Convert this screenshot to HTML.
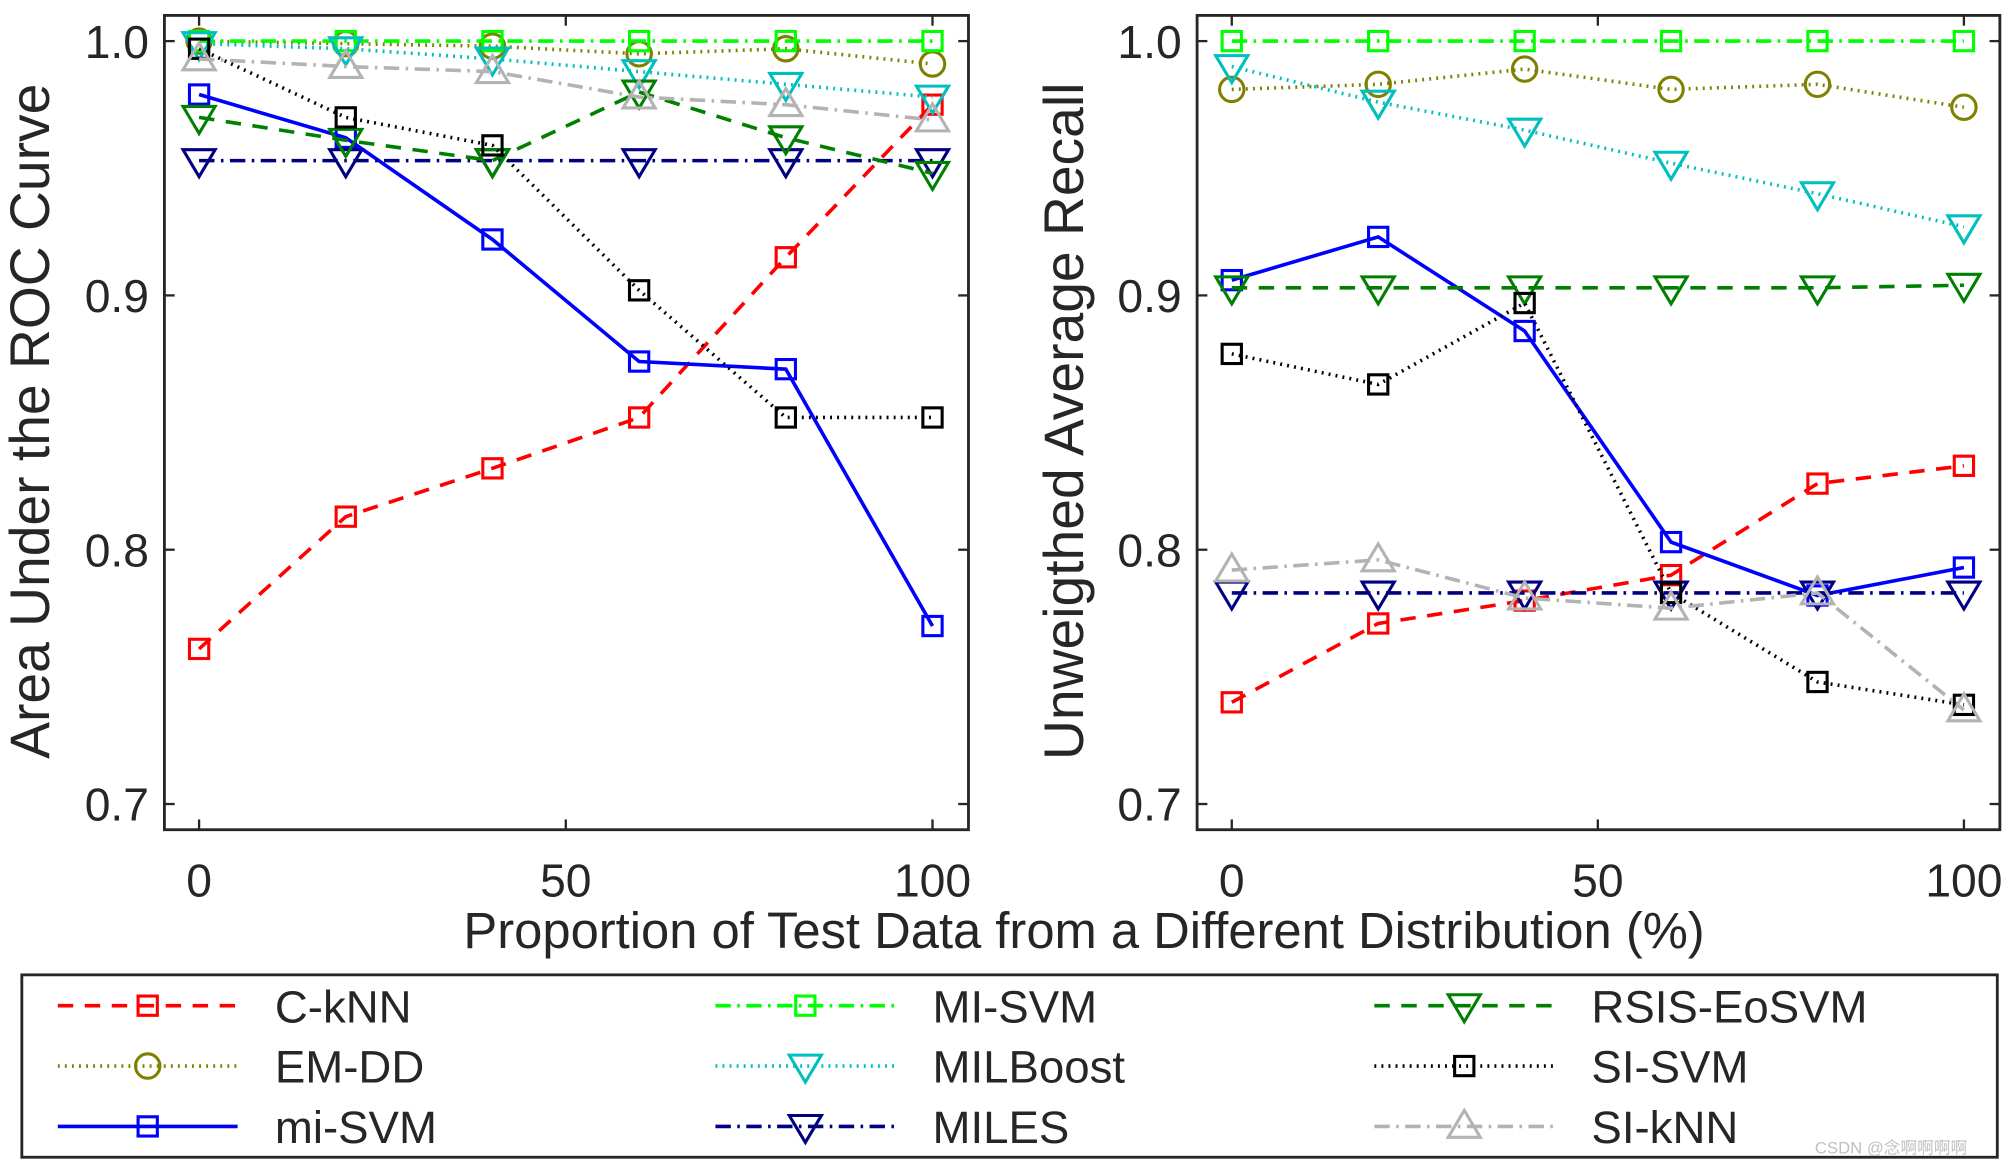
<!DOCTYPE html>
<html><head><meta charset="utf-8"><style>
html,body{margin:0;padding:0;background:#fff;}
svg{display:block;}
text{font-family:"Liberation Sans","Noto Sans CJK SC",sans-serif;fill:#262626;}
</style></head><body>
<svg id="chart" width="2014" height="1167" viewBox="0 0 1568 908.6" preserveAspectRatio="none" xmlns="http://www.w3.org/2000/svg"></svg>
<script>
const xVals=[0,20,40,60,80,100];
const xTicks=[0,50,100];
const yTicks=[0.7,0.8,0.9,1.0];
const yTickLabels=["0.7","0.8","0.9","1.0"];
const seriesNames=["C-kNN","EM-DD","mi-SVM","MI-SVM","MILBoost","MILES","RSIS-EoSVM","SI-SVM","SI-kNN"];
const aucCkNN=[0.761,0.813,0.832,0.852,0.915,0.975];
const aucEMDD=[1.0,0.999,0.998,0.995,0.997,0.991];
const aucMiSVM=[0.979,0.962,0.922,0.874,0.871,0.770];
const aucMISVM=[1.0,1.0,1.0,1.0,1.0,1.0];
const aucMILBoost=[0.999,0.997,0.993,0.988,0.983,0.978];
const aucMILES=[0.953,0.953,0.953,0.953,0.953,0.953];
const aucRSIS=[0.970,0.961,0.953,0.980,0.962,0.948];
const aucSISVM=[0.997,0.970,0.959,0.902,0.852,0.852];
const aucSIkNN=[0.993,0.990,0.988,0.978,0.975,0.969];
const uarCkNN=[0.740,0.771,0.780,0.790,0.826,0.833];
const uarEMDD=[0.981,0.983,0.989,0.981,0.983,0.974];
const uarMiSVM=[0.906,0.923,0.886,0.803,0.782,0.793];
const uarMISVM=[1.0,1.0,1.0,1.0,1.0,1.0];
const uarMILBoost=[0.990,0.976,0.965,0.952,0.940,0.927];
const uarMILES=[0.783,0.783,0.783,0.783,0.783,0.783];
const uarRSIS=[0.903,0.903,0.903,0.903,0.903,0.904];
const uarSISVM=[0.877,0.865,0.897,0.783,0.748,0.739];
const uarSIkNN=[0.792,0.796,0.781,0.777,0.783,0.737];

const NS="http://www.w3.org/2000/svg";
const svg=document.getElementById('chart');
function el(tag,attrs,parent){const e=document.createElementNS(NS,tag);for(const k in attrs)e.setAttribute(k,attrs[k]);(parent||svg).appendChild(e);return e;}

const styles={
 "C-kNN":{c:"#ff0000",d:"12 9",m:"sq"},
 "EM-DD":{c:"#808000",d:"1.5 4",m:"ci"},
 "mi-SVM":{c:"#0000ff",d:"",m:"sq"},
 "MI-SVM":{c:"#00ff00",d:"12 5 2 5",m:"sq"},
 "MILBoost":{c:"#00bfbf",d:"1.5 4",m:"tv"},
 "MILES":{c:"#000080",d:"12 5 2 5",m:"tv"},
 "RSIS-EoSVM":{c:"#008000",d:"12 9",m:"tv"},
 "SI-SVM":{c:"#000000",d:"1.5 4",m:"sq"},
 "SI-kNN":{c:"#b3b3b3",d:"12 5 2 5",m:"tu"}
};
const panels=[
 {name:"auc",x0:128,x1:754,xa:155,xb:726,ylabel:"Area Under the ROC Curve",ylx:38,
  data:{"C-kNN":aucCkNN,"EM-DD":aucEMDD,"mi-SVM":aucMiSVM,"MI-SVM":aucMISVM,"MILBoost":aucMILBoost,"MILES":aucMILES,"RSIS-EoSVM":aucRSIS,"SI-SVM":aucSISVM,"SI-kNN":aucSIkNN}},
 {name:"uar",x0:932,x1:1557,xa:959,xb:1529,ylabel:"Unweigthed Average Recall",ylx:843,
  data:{"C-kNN":uarCkNN,"EM-DD":uarEMDD,"mi-SVM":uarMiSVM,"MI-SVM":uarMISVM,"MILBoost":uarMILBoost,"MILES":uarMILES,"RSIS-EoSVM":uarRSIS,"SI-SVM":uarSISVM,"SI-kNN":uarSIkNN}}
];
const Y0=12,Y1=646;
function yScale(v){return 32+(1.0-v)*1980;}

function marker(g,type,x,y,c){
 let e;
 if(type==="sq") e=el('rect',{x:x-7.5,y:y-7.5,width:15,height:15,fill:'none',stroke:c,'stroke-width':2.4},g);
 else if(type==="ci") e=el('circle',{cx:x,cy:y,r:9.5,fill:'none',stroke:c,'stroke-width':2.4},g);
 else if(type==="tv") e=el('polygon',{points:`${x-12.5},${y-8.5} ${x+12.5},${y-8.5} ${x},${y+12.5}`,fill:'none',stroke:c,'stroke-width':2.4},g);
 else e=el('polygon',{points:`${x-12.5},${y+8.5} ${x+12.5},${y+8.5} ${x},${y-12.5}`,fill:'none',stroke:c,'stroke-width':2.4},g);
 return e;
}

panels.forEach(p=>{
 const xs=v=>p.xa+(v/100)*(p.xb-p.xa);
 const g=el('g',{});
 
 
 const box=el('rect',{x:p.x0,y:Y0,width:p.x1-p.x0,height:Y1-Y0,fill:'#fff',stroke:'#262626','stroke-width':2.2},g);
 
 
 xTicks.forEach(t=>{
  const x=xs(t);
  el('line',{x1:x,y1:Y1,x2:x,y2:Y1-8,stroke:'#262626','stroke-width':1.8},g);
  el('line',{x1:x,y1:Y0,x2:x,y2:Y0+8,stroke:'#262626','stroke-width':1.8},g);
  const tx=el('text',{x:x,y:698,'font-size':36,'text-anchor':'middle'},g);
  tx.textContent=String(t);
  
  
 });
 yTicks.forEach((t,i)=>{
  const y=yScale(t);
  el('line',{x1:p.x0,y1:y,x2:p.x0+8,y2:y,stroke:'#262626','stroke-width':1.8},g);
  el('line',{x1:p.x1,y1:y,x2:p.x1-8,y2:y,stroke:'#262626','stroke-width':1.8},g);
  const tx=el('text',{x:p.x0-12,y:y+13,'font-size':36,'text-anchor':'end'},g);
  tx.textContent=yTickLabels[i];
  
  
 });
 const yl=el('text',{x:0,y:0,'font-size':43,'text-anchor':'middle',transform:`translate(${p.ylx},${(Y0+Y1)/2-1}) rotate(-90)`},g);
 yl.textContent=p.ylabel;
 
 
 seriesNames.forEach(n=>{
  const st=styles[n];const vals=p.data[n];
  const pts=vals.map((v,i)=>`${xs(xVals[i])},${yScale(v)}`).join(' ');
  const line=el('polyline',{points:pts,fill:'none',stroke:st.c,'stroke-width':2.8,'stroke-dasharray':st.d},g);
  
  
  vals.forEach((v,i)=>{
   const m=marker(g,st.m,xs(xVals[i]),yScale(v),st.c);
   
   
  });
 });
});

const xl=el('text',{x:844,y:738,'font-size':39.5,'text-anchor':'middle'});
xl.textContent="Proportion of Test Data from a Different Distribution (%)";



const lg=el('g',{});


el('rect',{x:17,y:759,width:1538,height:142,fill:'#fff',stroke:'#262626','stroke-width':2.2},lg);
const legendOrder=[["C-kNN","MI-SVM","RSIS-EoSVM"],["EM-DD","MILBoost","SI-SVM"],["mi-SVM","MILES","SI-kNN"]];
const colX=[45,557,1070],rowY=[783,830,877];
legendOrder.forEach((row,ri)=>row.forEach((n,ci)=>{
 const st=styles[n];const x=colX[ci],y=rowY[ri];
 const e=el('g',{},lg);
 
 
 el('line',{x1:x,y1:y,x2:x+140,y2:y,stroke:st.c,'stroke-width':2.8,'stroke-dasharray':st.d},e);
 marker(e,st.m,x+70,y,st.c);
 const t=el('text',{x:x+169,y:y+13,'font-size':35.5,fill:'#000'},e);
 t.textContent=n;
}));
const wm=el('text',{x:1413,y:898,'font-size':13});
wm.setAttribute('style','fill:#c0c0c0');
wm.textContent="CSDN @念啊啊啊啊";


</script>
</body></html>
